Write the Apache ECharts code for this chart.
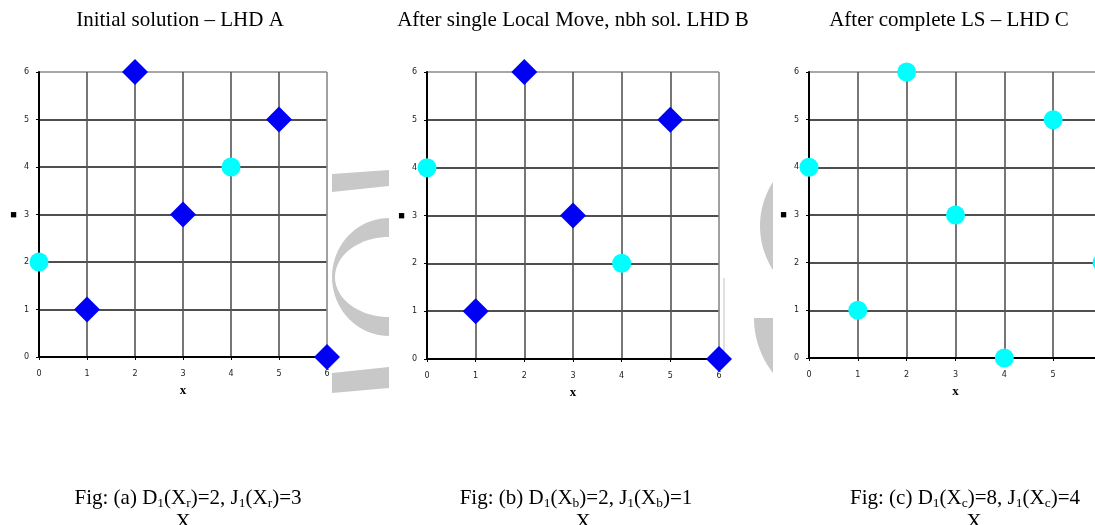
<!DOCTYPE html>
<html><head><meta charset="utf-8">
<script src="https://cdn.jsdelivr.net/npm/echarts@6/dist/echarts.min.js"></script>
<style>html,body{margin:0;padding:0;background:#fff}#c{width:1095px;height:525px}</style>
</head><body><div id="c"></div>
<script>
// ---- data ----
const tickValues = [0, 1, 2, 3, 4, 5, 6];
const panelTitles = ['Initial solution – LHD A', 'After single Local Move, nbh sol. LHD B', 'After complete LS – LHD C'];
const figIds = ['a', 'b', 'c'];
const figSubs = ['r', 'b', 'c'];
const figD = [2, 2, 8];
const figJ = [3, 1, 4];
const aDiamonds = [[1, 1], [2, 6], [3, 3], [5, 5], [6, 0]];
const aCircles = [[0, 2], [4, 4]];
const bDiamonds = [[1, 1], [2, 6], [3, 3], [5, 5], [6, 0]];
const bCircles = [[0, 4], [4, 2]];
const cDiamonds = [];
const cCircles = [[0, 4], [1, 1], [2, 6], [3, 3], [4, 0], [5, 5], [6, 2]];

// ---- layout ----
const grids = [
  {left: 39, top: 72, width: 288, height: 285, outerBoundsMode: 'none', containLabel: false},
  {left: 427, top: 72, width: 292, height: 287, outerBoundsMode: 'none', containLabel: false},
  {left: 809, top: 72, width: 293, height: 286, outerBoundsMode: 'none', containLabel: false}
];
const titleCx = [180, 573, 949];
const capCx = [188, 576, 965];
const xCx = [183, 583, 974];

const serif = '"Liberation Serif", "Times New Roman", serif';
const diamonds = [aDiamonds, bDiamonds, cDiamonds];
const circles = [aCircles, bCircles, cCircles];

const xAxes = [], yAxes = [], series = [];
const vCols = tickValues.map((v, i) => i === tickValues.length - 1 ? '#8a8a8a' : '#555');
const hCols = tickValues.map((v, i) => i === tickValues.length - 1 ? '#8a8a8a' : '#151515');
for (let i = 0; i < 3; i++) {
  const common = {
    gridIndex: i, type: 'value', min: tickValues[0], max: tickValues[tickValues.length - 1], interval: 1,
    nameLocation: 'middle',
    axisLine: {show: true, onZero: false, lineStyle: {color: '#000', width: 2}},
    axisTick: {show: true, length: 3, lineStyle: {color: '#000', width: 1}},
    axisLabel: {fontSize: 8, color: '#222', fontFamily: 'DejaVu Sans'}
  };
  xAxes.push(Object.assign({}, common, {
    name: 'x', nameGap: 27,
    nameTextStyle: {fontFamily: serif, fontWeight: 'bold', fontSize: 13, color: '#000'},
    axisLabel: Object.assign({}, common.axisLabel, {margin: 13}),
    splitLine: {show: true, lineStyle: {color: vCols, width: 1.6}}
  }));
  yAxes.push(Object.assign({}, common, {
    name: '■', nameGap: 22, nameRotate: 0,
    nameTextStyle: {fontSize: 11, color: '#000'},
    axisLabel: Object.assign({}, common.axisLabel, {margin: 10}),
    splitLine: {show: true, lineStyle: {color: hCols, width: 1.6}}
  }));
  series.push({
    type: 'scatter', xAxisIndex: i, yAxisIndex: i, data: diamonds[i], symbol: 'diamond', symbolSize: 26,
    itemStyle: {color: '#0000f5', opacity: 1}, clip: false, z: 3
  });
  series.push({
    type: 'scatter', xAxisIndex: i, yAxisIndex: i, data: circles[i], symbol: 'circle', symbolSize: 19,
    itemStyle: {color: '#00ffff', opacity: 1}, clip: false, z: 4
  });
}

// ---- decorative watermark fragments ----
function arcPts(cx, cy, rx, ry, a0, a1, n) {
  const p = [];
  for (let k = 0; k <= n; k++) { const a = a0 + (a1 - a0) * k / n; p.push([cx + rx * Math.cos(a), cy + ry * Math.sin(a)]); }
  return p;
}
const wm = '#c8c8c8';
const graphics = [
  {type: 'polygon', z: -10, shape: {points: [[332, 174], [389, 170], [389, 186], [332, 192]]}, style: {fill: wm}},
  {type: 'polygon', z: -10, shape: {points: arcPts(389, 277, 57, 59, Math.PI / 2, Math.PI * 1.5, 40)}, style: {fill: wm}},
  {type: 'polygon', z: -9, shape: {points: arcPts(389, 277, 54, 40, Math.PI / 2, Math.PI * 1.5, 40)}, style: {fill: '#fff'}},
  {type: 'polygon', z: -10, shape: {points: [[332, 373], [389, 367], [389, 388], [332, 393]]}, style: {fill: wm}},
  {type: 'polygon', z: -10, shape: {points: arcPts(841, 226, 81, 81, Math.acos(-68 / 81), 2 * Math.PI - Math.acos(-68 / 81), 30)}, style: {fill: wm}},
  {type: 'polygon', z: -10, shape: {points: arcPts(843, 318, 89, 89, Math.acos(-70 / 89), Math.PI, 30).concat([[773, 318]])}, style: {fill: wm}},
  {type: 'line', z: -10, shape: {x1: 724, y1: 278, x2: 724, y2: 352}, style: {stroke: '#e0e0e0', lineWidth: 2}}
];

const rich = {
  n: {fontSize: 21, fontFamily: serif, fill: '#000', lineHeight: 24},
  s: {fontSize: 13.5, fontFamily: serif, fill: '#000', lineHeight: 12, verticalAlign: 'bottom'}
};
for (let i = 0; i < 3; i++) {
  graphics.push({type: 'text', z: 10, style: {text: panelTitles[i], x: titleCx[i], y: 20, align: 'center', verticalAlign: 'middle', font: '21px ' + serif, fill: '#000'}});
  const cap = `{n|Fig: (${figIds[i]}) D}{s|1}{n|(X}{s|${figSubs[i]}}{n|)=${figD[i]}, J}{s|1}{n|(X}{s|${figSubs[i]}}{n|)=${figJ[i]}}`;
  graphics.push({type: 'text', z: 10, style: {text: cap, rich: rich, x: capCx[i], y: 498, align: 'center', verticalAlign: 'middle'}});
  graphics.push({type: 'text', z: 10, style: {text: 'X', x: xCx[i], y: 522, align: 'center', verticalAlign: 'middle', font: '21px ' + serif, fill: '#000'}});
}

const chart = echarts.init(document.getElementById('c'));
chart.setOption({
  animation: false,
  backgroundColor: '#fff',
  grid: grids,
  xAxis: xAxes,
  yAxis: yAxes,
  series: series,
  graphic: graphics
});
</script></body></html>
